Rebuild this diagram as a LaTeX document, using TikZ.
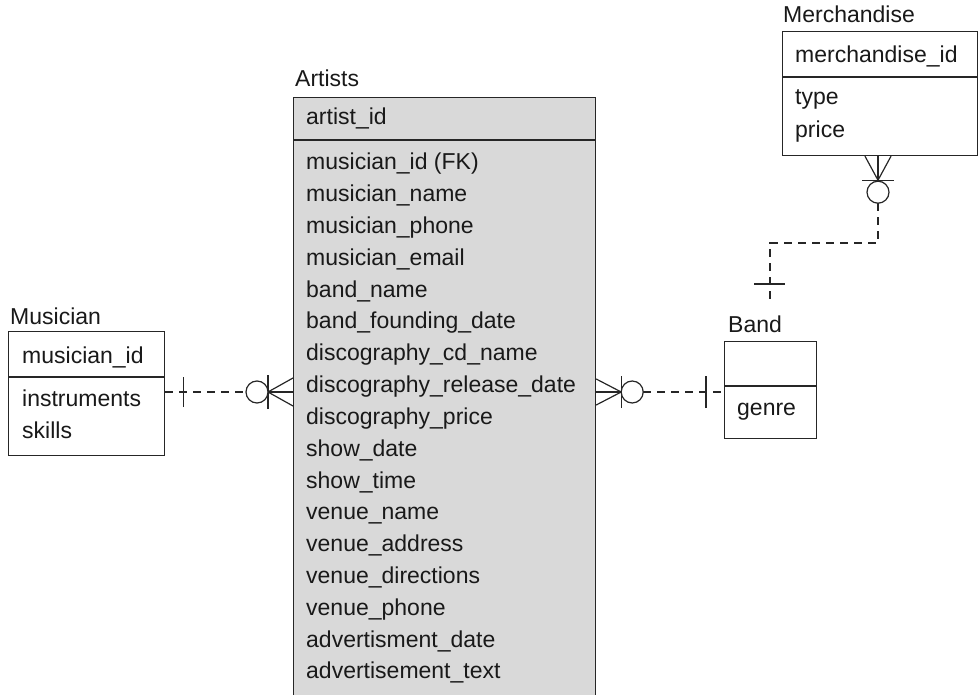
\documentclass[tikz,border=0pt]{standalone}
\usepackage{fontspec}
\setmainfont{Liberation Sans}
\begin{document}
\begin{tikzpicture}[x=1pt,y=-1pt,
  lw/.style={line width=1.2pt, draw=black!85},
  box/.style={lw, rectangle, inner sep=0pt, anchor=north west},
  txt/.style={anchor=base west, inner sep=0pt, font=\fontsize{23}{27}\selectfont, text=black!90},
  rel/.style={lw, dash pattern=on 8pt off 6pt},
  tick/.style={lw},
  ring/.style={lw, fill=white}
]
\useasboundingbox (0,0) rectangle (978,695);
\clip (0,0) rectangle (978,695);

% ---------- Artists ----------
\node[box, fill=black!15, minimum width=302pt, minimum height=640pt] (artists) at (293,97) {};
\draw[lw] (293,140) -- (595,140);
\node[txt] (artistsT) at (295,87) {Artists};
\node[txt] (a0) at (306,125) {artist\_id};
\foreach \t [count=\i from 0] in {musician\_id (FK),musician\_name,musician\_phone,musician\_email,band\_name,band\_founding\_date,discography\_cd\_name,discography\_release\_date,discography\_price,show\_date,show\_time,venue\_name,venue\_address,venue\_directions,venue\_phone,advertisment\_date,advertisement\_text}
  \node[txt] (ar\i) at (306,{170+31.8*\i}) {\t};

% ---------- Musician ----------
\node[box, fill=white, minimum width=156pt, minimum height=124pt] (musician) at (8,331) {};
\draw[lw] (8,377) -- (164,377);
\node[txt] (musicianT) at (10,324) {Musician};
\node[txt] (mu0) at (22,363) {musician\_id};
\node[txt] (mu1) at (22,406) {instruments};
\node[txt] (mu2) at (22,438) {skills};

% ---------- Band ----------
\node[box, fill=white, minimum width=92pt, minimum height=97pt] (band) at (724,341) {};
\draw[lw] (724,386) -- (816,386);
\node[txt] (bandT) at (728,332) {Band};
\node[txt] (ba1) at (737,415) {genre};

% ---------- Merchandise ----------
\node[box, fill=white, minimum width=195pt, minimum height=124pt] (merch) at (782,31) {};
\draw[lw] (782,77) -- (977,77);
\node[txt] (merchT) at (783,23) {Merchandise};
\node[txt] (me0) at (795,63) {merchandise\_id};
\node[txt] (me1) at (795,105) {type};
\node[txt] (me2) at (795,138) {price};

% ---------- Musician -- Artists ----------
\coordinate (m1) at (musician.east |- 0,392);
\coordinate (a1) at (artists.west |- 0,392);
\draw[rel] (m1) -- ([xshift=-47pt]a1);
\draw[tick] ([xshift=18pt,yshift=-15pt]m1) -- ([xshift=18pt,yshift=15pt]m1);
\draw[tick] ([yshift=-14pt]a1) -- ([xshift=-25pt]a1) -- ([yshift=14pt]a1);
\draw[tick] (a1) -- ([xshift=-25pt]a1);
\draw[tick] ([xshift=-25pt,yshift=-17pt]a1) -- ([xshift=-25pt,yshift=17pt]a1);
\draw[ring] ([xshift=-36pt]a1) circle (11pt);

% ---------- Artists -- Band ----------
\coordinate (a2) at (artists.east |- 0,392);
\coordinate (b2) at (band.west |- 0,392);
\draw[rel] ([xshift=47pt]a2) -- (b2);
\draw[tick] ([yshift=-13pt]a2) -- ([xshift=25pt]a2) -- ([yshift=13pt]a2);
\draw[tick] (a2) -- ([xshift=25pt]a2);
\draw[tick] ([xshift=25pt,yshift=-16pt]a2) -- ([xshift=25pt,yshift=16pt]a2);
\draw[ring] ([xshift=36pt]a2) circle (11pt);
\draw[tick] ([xshift=-18pt,yshift=-16pt]b2) -- ([xshift=-18pt,yshift=16pt]b2);

% ---------- Merchandise -- Band ----------
\coordinate (m3) at (merch.south -| 878,0);
\coordinate (b3) at (770,305);
\draw[rel] ([yshift=-47pt]m3) -- (878,243) -- (770,243) -- (b3);
\draw[tick] ([xshift=-13pt]m3) -- ([yshift=-24pt]m3) -- ([xshift=13pt]m3);
\draw[tick] (m3) -- ([yshift=-24pt]m3);
\draw[tick] ([xshift=-16pt,yshift=-24pt]m3) -- ([xshift=16pt,yshift=-24pt]m3);
\draw[ring] ([yshift=-36pt]m3) circle (11pt);
\draw[tick] (754,284) -- (785,284);
\end{tikzpicture}
\end{document}
